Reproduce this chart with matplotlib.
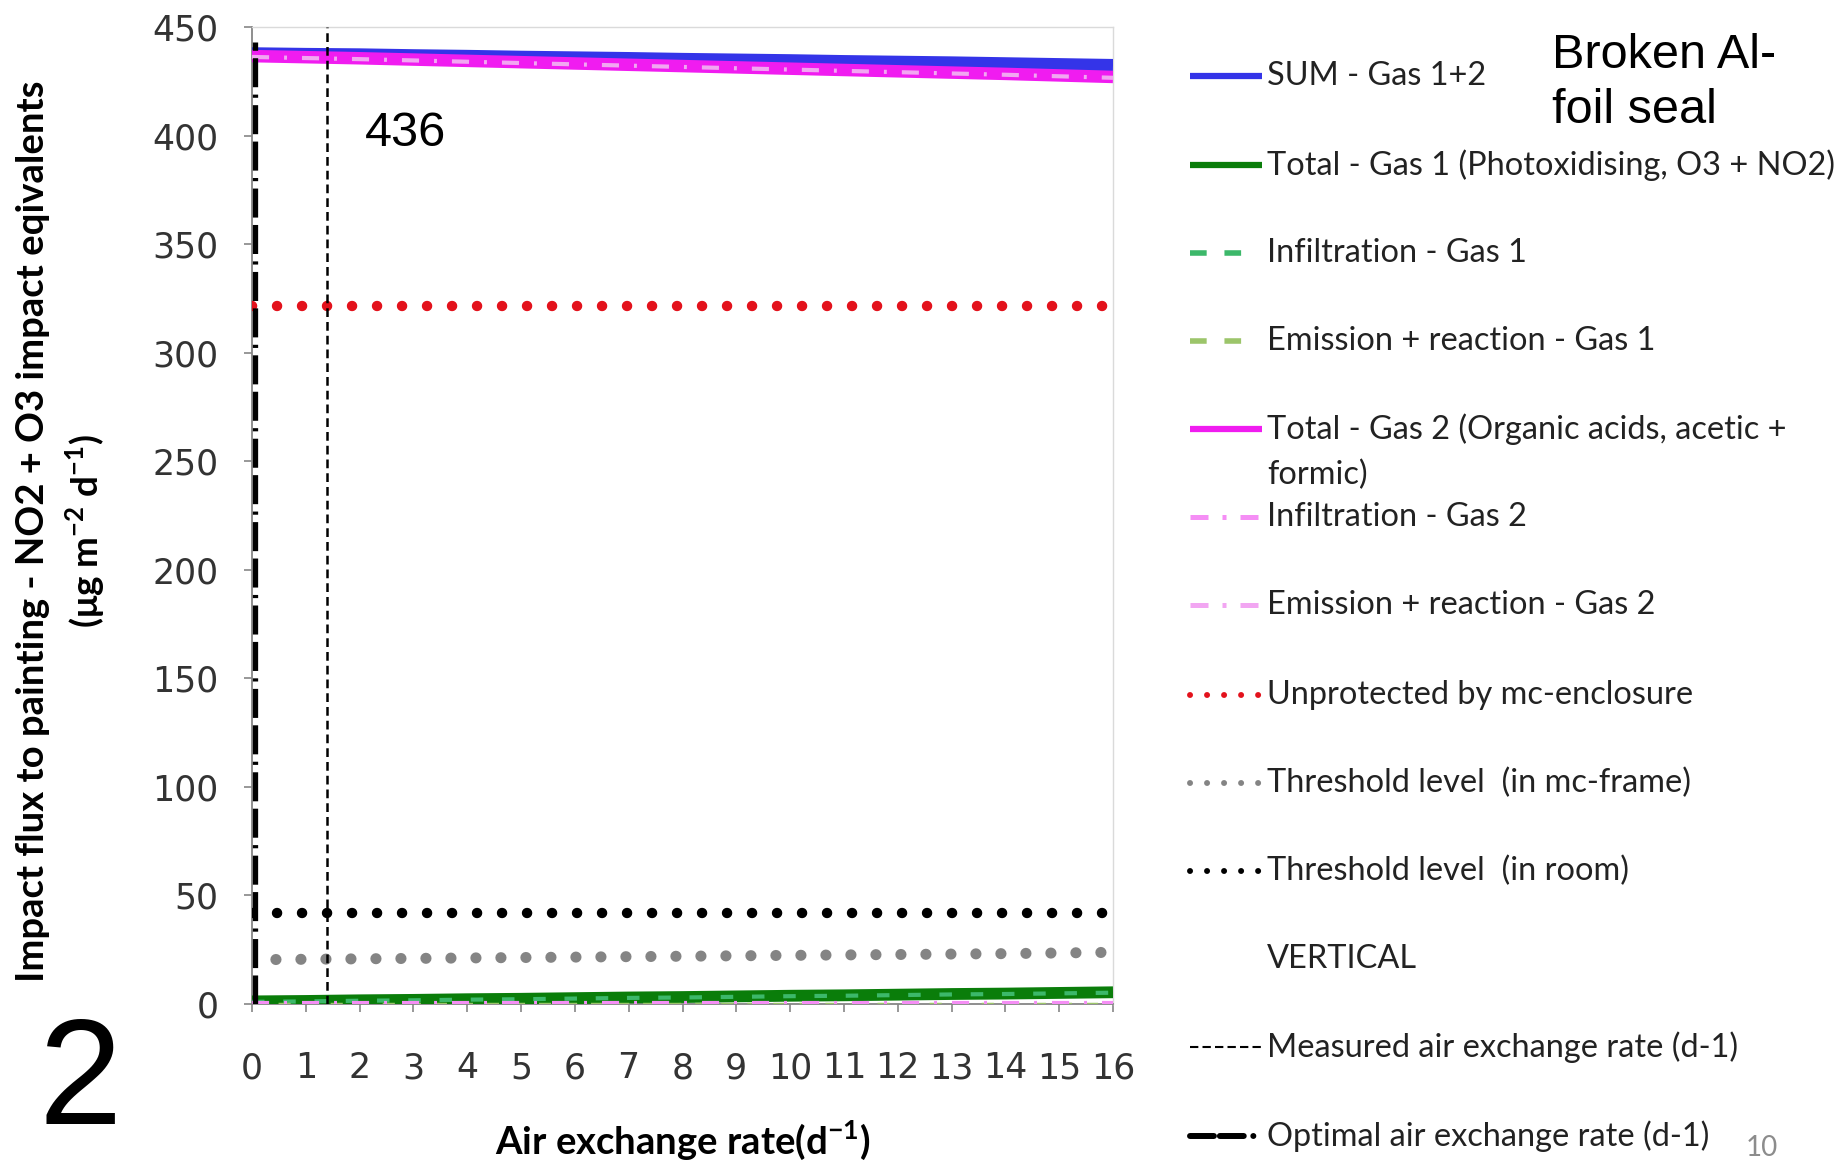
import matplotlib
matplotlib.use("Agg")
import matplotlib.pyplot as plt
from matplotlib.lines import Line2D

# ---- data -------------------------------------------------------------
air_exchange = [0, 1, 2, 3, 4, 5, 6, 7, 8, 9, 10, 11, 12, 13, 14, 15, 16]

sum_gas12 = [437.8, 437.5, 437.3, 436.9, 436.6, 436.2, 435.9, 435.6, 435.2,
             434.9, 434.6, 434.2, 433.9, 433.6, 433.2, 432.8, 432.4]
total_gas1 = [1.2, 1.4, 1.7, 1.9, 2.2, 2.4, 2.7, 3.0, 3.2, 3.5, 3.8, 4.0,
              4.3, 4.6, 4.8, 5.1, 5.4]
infiltration_gas1 = [1.0, 1.2, 1.5, 1.7, 2.0, 2.2, 2.5, 2.8, 3.0, 3.3, 3.6,
                     3.8, 4.1, 4.4, 4.6, 4.9, 5.2]
emission_gas1 = [0.2, 0.2, 0.2, 0.2, 0.2, 0.2, 0.2, 0.2, 0.2, 0.2, 0.2,
                 0.2, 0.2, 0.2, 0.2, 0.2, 0.2]
total_gas2 = [436.6, 436.1, 435.6, 435.0, 434.4, 433.8, 433.2, 432.6, 432.0,
              431.4, 430.8, 430.2, 429.6, 429.0, 428.4, 427.7, 427.0]
infiltration_gas2 = [436.2, 435.7, 435.2, 434.6, 434.0, 433.4, 432.8, 432.2,
                     431.6, 431.0, 430.4, 429.8, 429.2, 428.6, 428.0, 427.3,
                     426.6]
emission_gas2 = [0.4, 0.4, 0.4, 0.4, 0.4, 0.4, 0.4, 0.4, 0.4, 0.4, 0.4, 0.4,
                 0.4, 0.4, 0.4, 0.4, 0.4]
unprotected_level = 321.5
threshold_frame = [20.4, 20.6, 20.8, 21.0, 21.2, 21.4, 21.6, 21.8, 22.0,
                   22.2, 22.4, 22.6, 22.8, 23.0, 23.2, 23.5, 23.8]
threshold_room_level = 42

measured_rate = 1.4
optimal_rate = 0.05
optimal_top = 443
flux_at_measured = 436

x_ticks = list(range(0, 17))
y_ticks = list(range(0, 451, 50))

legend_labels = [
    "SUM - Gas 1+2",
    "Total - Gas 1 (Photoxidising, O3 + NO2)",
    "Infiltration - Gas 1",
    "Emission + reaction - Gas 1",
    "Total - Gas 2 (Organic acids, acetic +\nformic)",
    "Infiltration - Gas 2",
    "Emission + reaction - Gas 2",
    "Unprotected by mc-enclosure",
    "Threshold level  (in mc-frame)",
    "Threshold level  (in room)",
    "VERTICAL",
    "Measured air exchange rate (d-1)",
    "Optimal air exchange rate (d-1)",
]

# ---- styles -----------------------------------------------------------
C_BLUE = "#3434e8"
C_GREEN = "#0a7d0a"
C_GREEN_DASH = "#3cb86a"
C_GREEN_LIGHT = "#9cc56a"
C_MAGENTA = "#f01cf0"
C_PINK = "#f58ef5"
C_PINK_LIGHT = "#f2a6f2"
C_RED = "#e3121c"
C_GREY = "#848484"

plt.rcParams["mathtext.fontset"] = "custom"
plt.rcParams["mathtext.rm"] = "Lato"
plt.rcParams["mathtext.bf"] = "Lato:bold"

W, H = 1841, 1161
fig = plt.figure(figsize=(W / 100, H / 100), dpi=100)
ax = fig.add_axes([252 / W, 1 - 1004 / H, (1113 - 252) / W, (1004 - 27) / H])

x = air_exchange
n = len(x)

dot = dict(solid_capstyle="round", dash_capstyle="round")
ax.plot(x, [unprotected_level] * n, color=C_RED, lw=7.5,
        linestyle=(0, (0.01, 2.39)), **dot, zorder=3)
ax.plot(x, [threshold_room_level] * n, color="black", lw=7.5,
        linestyle=(0, (0.01, 2.39)), **dot, zorder=3)
ax.plot(x, threshold_frame, color=C_GREY, lw=8,
        linestyle=(0.1, (0.01, 2.24)), **dot, zorder=3)

ax.plot(x, total_gas1, color=C_GREEN, lw=8.5, solid_capstyle="butt", zorder=4)
ax.plot(x, infiltration_gas1, color=C_GREEN_DASH, lw=3,
        linestyle=(0, (3.0, 4.5)), zorder=5)
ax.plot(x, emission_gas1, color=C_GREEN_LIGHT, lw=2.5,
        linestyle=(0, (3.5, 4.0)), zorder=5)
ax.plot(x, emission_gas2, color=C_PINK, lw=3,
        linestyle=(0, (4.1, 3.6, 0.7, 3.6)), zorder=5)

ax.plot(x, sum_gas12, color=C_BLUE, lw=9, solid_capstyle="butt", zorder=4)
ax.plot(x, total_gas2, color=C_MAGENTA, lw=9, solid_capstyle="butt", zorder=4)
ax.plot(x, infiltration_gas2, color=C_PINK_LIGHT, lw=3,
        linestyle=(0, (4.1, 3.6, 0.7, 3.6)), zorder=5)

ax.axvline(measured_rate, color="black", lw=1.8,
           linestyle=(0, (3.5, 2.0)), zorder=6)
ax.plot([optimal_rate, optimal_rate], [0, optimal_top], color="black", lw=3.8,
        linestyle=(0, (5.5, 1.4, 5.5, 1.4, 0.6, 1.4)), zorder=6)

ax.text(2.1, 401, str(flux_at_measured), fontsize=35,
        family="Liberation Sans", va="center", ha="left")

ax.set_xlim(0, 16)
ax.set_ylim(0, 450)
ax.set_xticks(x_ticks)
ax.set_yticks(y_ticks)
ax.tick_params(axis="both", labelsize=25, colors="#868686",
               labelcolor="#333333", length=6, width=1.2)
ax.tick_params(axis="y", pad=18)
ax.tick_params(axis="x", pad=28)
for lab in ax.get_xticklabels() + ax.get_yticklabels():
    lab.set_family("DejaVu Sans")
for side in ("left", "bottom"):
    ax.spines[side].set_color("#868686")
    ax.spines[side].set_linewidth(1.3)
for side in ("top", "right"):
    ax.spines[side].set_color("#dadada")
    ax.spines[side].set_linewidth(1.0)

ax.set_xlabel(r"Air exchange rate(d$^{\mathbf{-1}}$)", fontsize=27.5,
              family="Lato", fontweight="bold", labelpad=24)

# ---- figure-level annotations and legend --------------------------------
ov = fig.add_axes([0, 0, 1, 1])
ov.set_xlim(0, W)
ov.set_ylim(H, 0)
ov.axis("off")

ov.text(33, 531, "Impact flux to painting - NO2 + O3 impact eqivalents",
        rotation=90, ha="center", va="center", fontsize=27.5,
        family="Lato", fontweight="bold")
ov.text(86, 531, r"(μg m$^{\mathbf{-2}}$ d$^{\mathbf{-1}}$)",
        rotation=90, ha="center", va="center", fontsize=26.5,
        family="Lato", fontweight="bold")

ov.text(80, 1085, "2", fontsize=108, family="Liberation Sans",
        ha="center", va="center")
ov.text(1552, 83, "Broken Al-\nfoil seal", fontsize=35,
        family="Liberation Sans", ha="left", va="center", linespacing=1.27)
ov.text(1762, 1148, "10", fontsize=20, family="Lato", color="#8c8c8c",
        ha="center", va="center")

legend_rows = [76, 165, 253, 341, 429, 517, 605, 695, 783, 871, 959, 1047, 1136]
handle_styles = [
    dict(color=C_BLUE, lw=4.5, solid_capstyle="butt"),
    dict(color=C_GREEN, lw=4.5, solid_capstyle="butt"),
    dict(color=C_GREEN_DASH, lw=4.0, linestyle=(0, (3.0, 3.2))),
    dict(color=C_GREEN_LIGHT, lw=4.0, linestyle=(0, (3.0, 3.2))),
    dict(color=C_MAGENTA, lw=4.5, solid_capstyle="butt"),
    dict(color=C_PINK, lw=3.6, linestyle=(0, (3.6, 2.8, 0.8, 2.8))),
    dict(color=C_PINK_LIGHT, lw=3.6, linestyle=(0, (3.6, 2.8, 0.8, 2.8))),
    dict(color=C_RED, lw=4.3, linestyle=(0, (0.01, 2.84)), **dot),
    dict(color=C_GREY, lw=4.3, linestyle=(0, (0.01, 2.84)), **dot),
    dict(color="black", lw=4.3, linestyle=(0, (0.01, 2.84)), **dot),
    None,
    dict(color="black", lw=1.5, linestyle=(0, (4, 2))),
    dict(color="black", lw=4.3, linestyle=(0, (4.0, 1.0, 4.0, 1.6, 0.01, 1.6)),
         dash_capstyle="round"),
]
handle_ends = [1262, 1262, 1242, 1242, 1262, 1262, 1262, 1260, 1260, 1260,
               1262, 1262, 1260]
for label, y, style, x_end in zip(legend_labels, legend_rows, handle_styles,
                                  handle_ends):
    if style is not None:
        ov.add_line(Line2D([1190, x_end], [y, y], **style))
    if "\n" in label:
        ov.text(1267, y - 16, label, fontsize=23.4, family="Lato",
                color="#222222", ha="left", va="top", linespacing=1.6)
    else:
        ov.text(1267, y, label, fontsize=23.4, family="Lato",
                color="#222222", ha="left", va="center")

fig.savefig("out.png", dpi=100)
